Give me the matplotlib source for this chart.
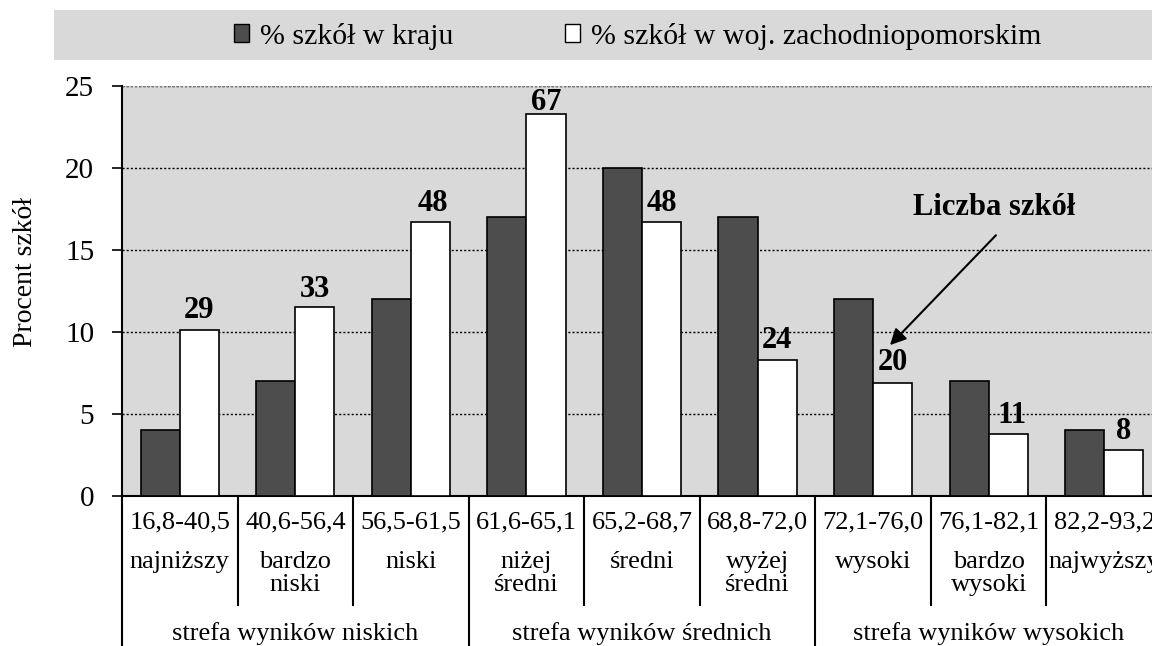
import matplotlib.pyplot as plt
from matplotlib.patches import Rectangle, Patch

plt.rcParams['font.family'] = ['Liberation Serif', 'DejaVu Serif']

# Przedziały wyników i poziomy (staniny)
zakresy = ['16,8-40,5', '40,6-56,4', '56,5-61,5', '61,6-65,1', '65,2-68,7',
           '68,8-72,0', '72,1-76,0', '76,1-82,1', '82,2-93,2']
poziomy = ['najniższy', 'bardzo\nniski', 'niski', 'niżej\nśredni', 'średni',
           'wyżej\nśredni', 'wysoki', 'bardzo\nwysoki', 'najwyższy']
strefy = ['strefa wyników niskich', 'strefa wyników średnich', 'strefa wyników wysokich']

# Procent szkół
kraj = [4, 7, 12, 17, 20, 17, 12, 7, 4]
woj = [10.1, 11.5, 16.7, 23.3, 16.7, 8.3, 6.9, 3.8, 2.8]
# Liczba szkół w województwie
liczba = [29, 33, 48, 67, 48, 24, 20, 11, 8]

# położenie środka etykiety nad słupkiem (w pikselach)
label_dy = [23, 21, 22, 15, 22, 23, 24, 22, 22]
label_dx = [0, 0, 2, 0, 0, 0, 0, 4, 0]

fig = plt.figure(figsize=(11.52, 6.46), dpi=100)
ax = fig.add_axes([122 / 1152, 1 - 496 / 646, 1040 / 1152, 410 / 646])

x = list(range(len(kraj)))
w = 0.338
ax.set_facecolor('#d9d9d9')
ax.bar([i - w / 2 for i in x], kraj, w, color='#4d4d4d', edgecolor='black', linewidth=1.2, zorder=3)
ax.bar([i + w / 2 for i in x], woj, w, color='white', edgecolor='black', linewidth=1.2, zorder=3)

for i in x:
    ax.annotate(str(liczba[i]), (i + w / 2, woj[i]), xytext=(label_dx[i] * 0.72, label_dy[i] * 0.72),
                textcoords='offset points', ha='center', va='center_baseline',
                fontsize=22, fontweight='bold', zorder=5)

ax.set_xlim(-0.5, 8.5)
ax.set_ylim(0, 25)
ax.set_yticks([0, 5, 10, 15, 20, 25])
ax.tick_params(axis='y', labelsize=21, length=7, width=1.2, pad=13)
ax.set_xticks([])
ax.yaxis.grid(True, linestyle=(0, (1.5, 1.5)), color='black', linewidth=1)
ax.set_axisbelow(True)
for s in ['top', 'right']:
    ax.spines[s].set_visible(False)
ax.spines['left'].set_linewidth(1.5)
ax.spines['bottom'].set_linewidth(1.5)
ax.axhline(25, color='#808080', linestyle=(0, (1.5, 1.5)), linewidth=1)
ax.set_ylabel('Procent szkół', fontsize=20)
ax.yaxis.set_label_coords(-84 / 1040, (496 - 272) / 410)

# strzałka z opisem
ax.text(7.05, 17.6, 'Liczba szkół', fontsize=22, fontweight='bold', ha='center', va='center')
ax.annotate('', xy=(6.146, 9.2), xytext=(7.063, 15.9),
            arrowprops=dict(arrowstyle='-|>', color='black', lw=1.5,
                            mutation_scale=24, shrinkA=0, shrinkB=0))

# tabela pod osią
tr = ax.get_xaxis_transform()
def fy(px):
    # piksel od góry -> współrzędne osi
    return (496 - px) / 410

for i in x:
    ax.text(i, fy(522), zakresy[i], transform=tr, ha='center', va='center', fontsize=19)
    ax.text(i, fy(551), poziomy[i], transform=tr, ha='center', va='top', fontsize=19,
            linespacing=1.05)
for b in range(10):
    xb = b - 0.5
    dol = 646 if b % 3 == 0 else 605
    ax.plot([xb, xb], [fy(496), fy(dol)], transform=tr, color='black', lw=1.5, clip_on=False)
for g in range(3):
    ax.text(3 * g + 1, fy(634), strefy[g], transform=tr, ha='center', va='center', fontsize=19)

# legenda na szarym tle
fig.patches.append(Rectangle((54 / 1152, 1 - 60 / 646), 1.2, 50 / 646, transform=fig.transFigure,
                             facecolor='#d9d9d9', edgecolor='none', zorder=0))
handles = [Patch(facecolor='#4d4d4d', edgecolor='black', label='% szkół w kraju'),
           Patch(facecolor='white', edgecolor='black', label='% szkół w woj. zachodniopomorskim')]
fig.legend(handles=handles, loc='center', bbox_to_anchor=(638 / 1152, 1 - 36 / 646), ncol=2,
           frameon=False, fontsize=21.5, handlelength=0.5, handleheight=0.57, handletextpad=0.37,
           columnspacing=3.75)

fig.savefig('out.png', dpi=100)
